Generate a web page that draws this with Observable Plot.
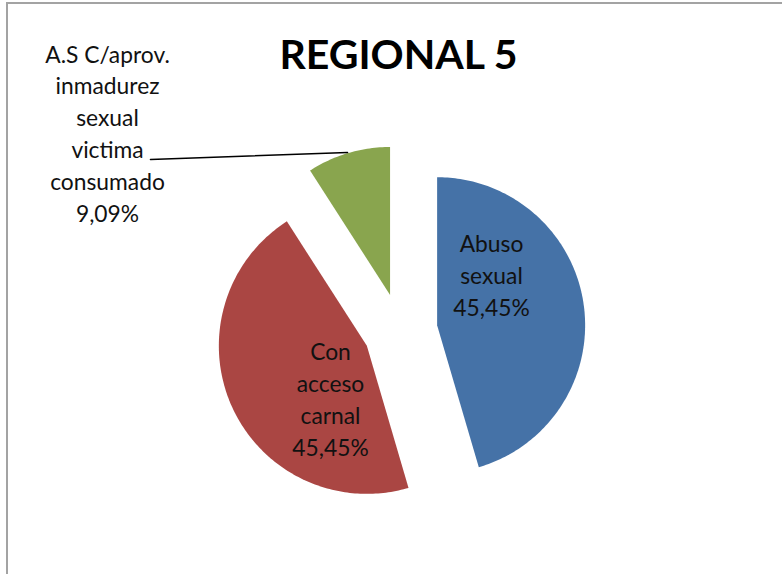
<!DOCTYPE html>
<html><head><meta charset="utf-8">
<script src="https://cdn.jsdelivr.net/npm/d3@7"></script>
<script src="https://cdn.jsdelivr.net/npm/@observablehq/plot@0.6"></script>
<style>
html,body{margin:0;padding:0;background:#fff;}
#chart{position:relative;width:782px;height:574px;overflow:hidden;}
#border{position:absolute;left:6px;top:1.5px;width:800px;height:600px;border-left:2.5px solid #a3a3a3;border-top:2.5px solid #a3a3a3;box-sizing:border-box;}
#chart svg{position:absolute;left:0;top:0;}
</style></head><body>
<div id="chart"><div id="border"></div></div>
<script>
// ---- data ----
const title = "REGIONAL 5";
const categories = ["Abuso sexual", "Con acceso carnal", "A.S C/aprov. inmadurez sexual victima consumado"];
const labelLines = [["Abuso", "sexual"], ["Con", "acceso", "carnal"], ["A.S C/aprov.", "inmadurez", "sexual", "victima", "consumado"]];
const values = [45.45, 45.45, 9.09];
const percentLabels = ["45,45%", "45,45%", "9,09%"];
const colors = ["#4572A7", "#AA4643", "#89A54E"];

// ---- layout (pixels) ----
const W = 782, H = 574;
const cx = 400, cy = 330, R = 148;      // pie centre & radius
const explode = 37 / R;                 // explosion offset (in radii)
// label anchor = last baseline (px)
const labelAnchor = [[491, 315], [330, 455], [107, 221]];
const leader = [[150, 159], [347, 152]];
const toX = px => (px - cx) / R;
const toY = py => (cy - py) / R;

const pie = d3.pie().sort(null).value(d => d.value)(
  categories.map((name, i) => ({name, value: values[i]}))
);

const slicePts = [];
pie.forEach(s => {
  const mid = (s.startAngle + s.endAngle) / 2;
  const ox = explode * Math.sin(mid), oy = explode * Math.cos(mid);
  const name = s.data.name;
  slicePts.push({name, x: ox, y: oy});
  const n = Math.max(8, Math.ceil((s.endAngle - s.startAngle) / (Math.PI / 180)));
  for (let k = 0; k <= n; k++) {
    const a = s.startAngle + (s.endAngle - s.startAngle) * k / n;
    slicePts.push({name, x: ox + Math.sin(a), y: oy + Math.cos(a)});
  }
  slicePts.push({name, x: ox, y: oy});
});

const labels = categories.map((name, i) => ({
  text: labelLines[i].concat([percentLabels[i]]).join("\n"),
  x: toX(labelAnchor[i][0]),
  y: toY(labelAnchor[i][1])
}));

const plot = Plot.plot({
  width: W, height: H,
  margin: 0,
  x: {domain: [toX(0), toX(W)], axis: null},
  y: {domain: [toY(H), toY(0)], axis: null},
  color: {domain: categories, range: colors},
  style: {background: "transparent", overflow: "visible"},
  marks: [
    Plot.line(slicePts, {x: "x", y: "y", z: "name", fill: "name", stroke: "none", curve: "linear"}),
    Plot.line(leader.map(([px, py]) => ({x: toX(px), y: toY(py)})), {x: "x", y: "y", stroke: "#000", strokeWidth: 1.6}),
    Plot.text(labels, {x: "x", y: "y", text: "text", textAnchor: "middle", lineAnchor: "bottom",
      lineHeight: 31.8 / 22.8, fontSize: 22.8, fontFamily: "Lato", fill: "#111"}),
    Plot.text([title], {x: toX(398), y: toY(68), text: d => d, textAnchor: "middle", lineAnchor: "bottom",
      fontSize: 41, fontWeight: "bold", fontFamily: "Lato", fill: "#000"})
  ]
});
document.getElementById("chart").appendChild(plot);
</script>
</body></html>
